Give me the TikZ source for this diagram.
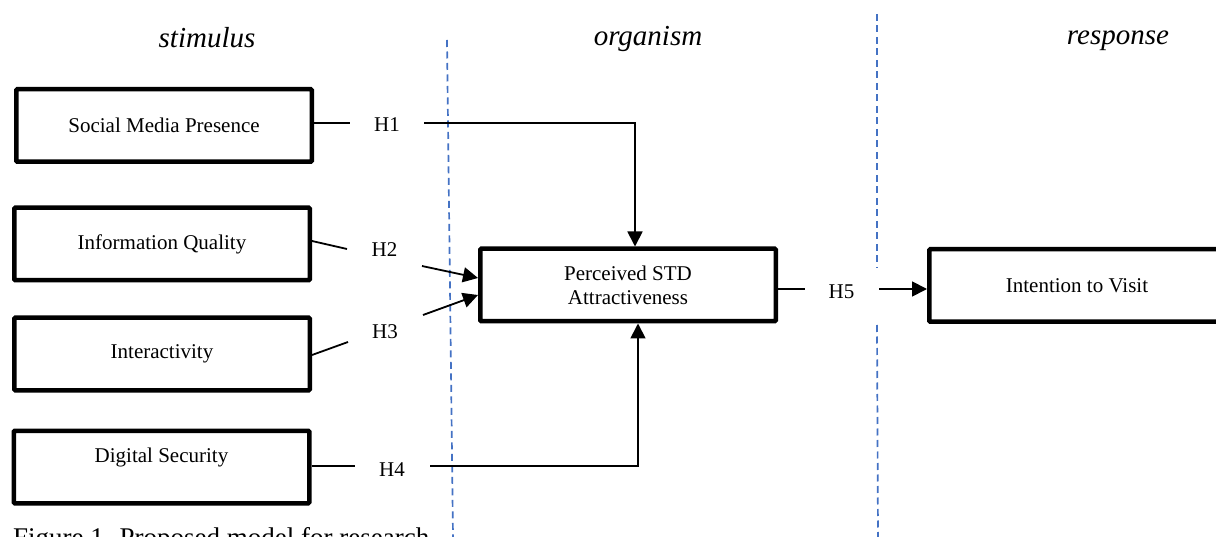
\documentclass[tikz,border=0pt]{standalone}
\usepackage{fontspec}
\setmainfont{Liberation Serif}
\usetikzlibrary{arrows.meta}
\definecolor{sepblue}{RGB}{68,114,196}
\begin{document}
\begin{tikzpicture}[x=1pt,y=-1pt,
  box/.style={draw, line width=4.5pt, rounded corners=1pt, minimum width=295.5pt, minimum height=72.5pt, inner sep=0pt, font=\fontsize{21}{24}\selectfont, align=center},
  hlab/.style={inner sep=0pt, font=\fontsize{21}{24}\selectfont},
  head/.style={anchor=base, inner sep=0pt, font=\fontsize{29}{34}\selectfont\itshape},
  conn/.style={line width=1.8pt},
  arr/.style={conn, -{Triangle[length=15pt,width=15pt]}},
  sep/.style={draw=sepblue, line width=1.7pt, dash pattern=on 7pt off 4.5pt}]
\useasboundingbox (0,0) rectangle (1216,537);

% separators
\coordinate (s1a) at (447,40);
\coordinate (s1b) at (453,537);
\coordinate (s2a) at (877,14);
\coordinate (s2b) at (877,268);
\coordinate (s2c) at (877,325);
\coordinate (s2d) at (878,537);
\draw[sep] (s1a) -- (s1b);
\draw[sep] (s2a) -- (s2b);
\draw[sep] (s2c) -- (s2d);

% headings
\node[head] (hstim) at (207,48) {stimulus};
\node[head] (horg) at (648,46) {organism};
\node[head] (hresp) at (1118,45) {response};

% boxes
\node[box] (smp) at (164,125.5) {Social Media Presence};
\node[box] (iq) at (162,244) {Information Quality};
\node[box] (inter) at (162,354) {Interactivity};
\node[box, text height=14pt, text depth=24pt] (ds) at (161.5,467) {Digital Security};
\node[box] (per) at (628,285) {Perceived STD\\Attractiveness};
\node[box] (itv) at (1077,285.5) {Intention to Visit};

% hypothesis labels
\node[hlab] (h1) at (387,125) {H1};
\node[hlab] (h2) at (384.5,250) {H2};
\node[hlab] (h3) at (385,332) {H3};
\node[hlab] (h4) at (392,470) {H4};
\node[hlab] (h5) at (841.5,292) {H5};

% connector ends near labels
\coordinate (h1a) at (350,123);
\coordinate (h1b) at (424,123);
\coordinate (h2a) at (347,249);
\coordinate (h2b) at (422,266);
\coordinate (h3a) at (348,342);
\coordinate (h3b) at (423,315);
\coordinate (h4a) at (355,466);
\coordinate (h4b) at (430,466);
\coordinate (h5a) at (805,289);
\coordinate (h5b) at (879,289);

% connectors
\draw[conn] (smp.east |- h1a) -- (h1a);
\draw[arr] (h1b) -| ([xshift=7pt]per.north);

\draw[conn] ([yshift=3pt]iq.east) -- (h2a);
\draw[arr] (h2b) -- ([yshift=7pt]per.west);

\draw[conn] ([yshift=-1pt]inter.east) -- (h3a);
\draw[arr] (h3b) -- ([yshift=-10pt]per.west);

\draw[conn] ([yshift=1pt]ds.east) -- (h4a);
\draw[arr] (h4b) -| ([xshift=10pt]per.south);

\draw[conn] ([yshift=-4pt]per.east) -- (h5a);
\draw[arr] (h5b) -- (itv.west |- h5b);

% caption (cut off at the bottom edge, as in the reference)
\node[anchor=base west, inner sep=0pt, font=\fontsize{27}{32}\selectfont] (cap) at (13,546) {Figure 1. Proposed model for research};
\end{tikzpicture}
\end{document}
